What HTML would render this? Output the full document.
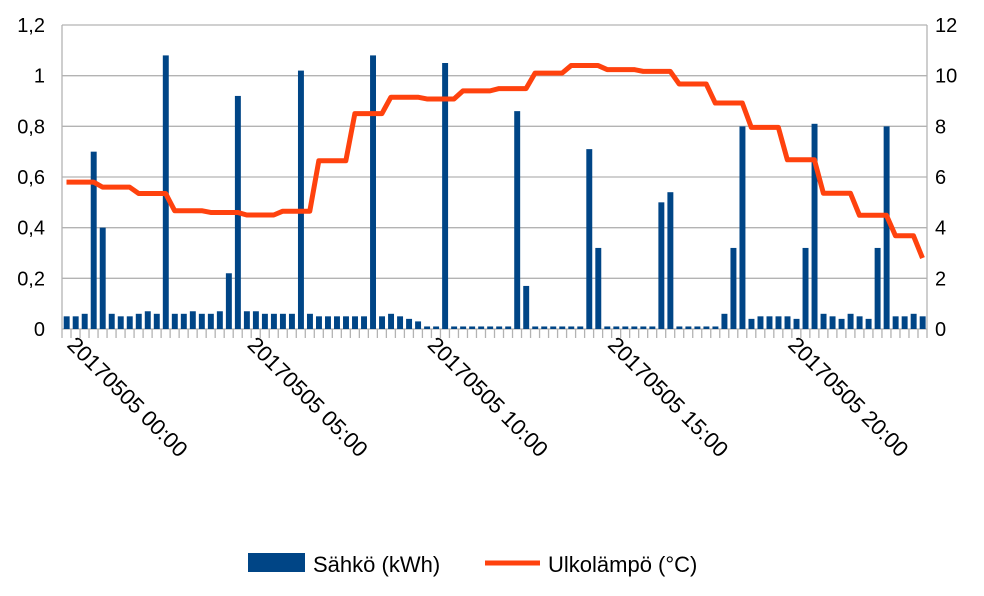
<!DOCTYPE html>
<html><head><meta charset="utf-8"><style>
html,body{margin:0;padding:0;background:#fff;}
svg text{font-family:"Liberation Sans",sans-serif;fill:#000;}
</style></head><body>
<svg id="chart" width="984" height="591" viewBox="0 0 984 591" xmlns="http://www.w3.org/2000/svg">
<g id="grid"></g>
<g id="bars"></g>
<g id="axes"></g>
<g id="line"></g>
<g id="legend">
  <g>
    <rect x="248" y="553" width="57" height="19" fill="#004586"/>
    <text x="313" y="572" font-size="22">Sähkö (kWh)</text>
  </g>
  <g>
    <line x1="485" y1="563" x2="540" y2="563" stroke="#ff420e" stroke-width="5"/>
    <text x="548" y="572" font-size="22">Ulkolämpö (°C)</text>
  </g>
</g>
</svg>
<script>
const electricity = [0.05,0.05,0.06,0.70,0.40,0.06,0.05,0.05,0.06,0.07,0.06,1.08,0.06,0.06,0.07,0.06,
0.06,0.07,0.22,0.92,0.07,0.07,0.06,0.06,0.06,0.06,1.02,0.06,0.05,0.05,0.05,0.05,
0.05,0.05,1.08,0.05,0.06,0.05,0.04,0.03,0.01,0.01,1.05,0.01,0.01,0.01,0.01,0.01,
0.01,0.01,0.86,0.17,0.01,0.01,0.01,0.01,0.01,0.01,0.71,0.32,0.01,0.01,0.01,0.01,
0.01,0.01,0.50,0.54,0.01,0.01,0.01,0.01,0.01,0.06,0.32,0.80,0.04,0.05,0.05,0.05,
0.05,0.04,0.32,0.81,0.06,0.05,0.04,0.06,0.05,0.04,0.32,0.80,0.05,0.05,0.06,0.05];
const temperature = [5.8,5.8,5.8,5.8,5.6,5.6,5.6,5.6,5.35,5.35,5.35,5.35,4.67,4.67,4.67,4.67,
4.6,4.6,4.6,4.6,4.5,4.5,4.5,4.5,4.65,4.65,4.65,4.65,6.64,6.64,6.64,6.64,
8.5,8.5,8.5,8.5,9.15,9.15,9.15,9.15,9.08,9.08,9.08,9.08,9.4,9.4,9.4,9.4,
9.49,9.49,9.49,9.49,10.1,10.1,10.1,10.1,10.4,10.4,10.4,10.4,10.24,10.24,10.24,10.24,
10.17,10.17,10.17,10.17,9.67,9.67,9.67,9.67,8.92,8.92,8.92,8.92,7.96,7.96,7.96,7.96,
6.68,6.68,6.68,6.68,5.36,5.36,5.36,5.36,4.49,4.49,4.49,4.49,3.68,3.68,3.68,2.8];
const leftTicks = ["0","0,2","0,4","0,6","0,8","1","1,2"];
const rightTicks = ["0","2","4","6","8","10","12"];
const xLabels = ["20170505 00:00","20170505 05:00","20170505 10:00","20170505 15:00","20170505 20:00"];
const xLabelSlots = [0,20,40,60,80];

const NS="http://www.w3.org/2000/svg";
const X0=62,X1=927,Y0=329,Y1=25;
const slot=(X1-X0)/electricity.length;
const yL=v=>Y0-(v/1.2)*(Y0-Y1);
const yR=v=>Y0-(v/12)*(Y0-Y1);
const xS=i=>X0+slot*i;
function mk(tag,attrs,parent){const e=document.createElementNS(NS,tag);for(const k in attrs)e.setAttribute(k,attrs[k]);parent.appendChild(e);return e;}
const grid=document.getElementById('grid'),bars=document.getElementById('bars'),axes=document.getElementById('axes'),line=document.getElementById('line');
leftTicks.forEach((t,i)=>{
  const v=i*0.2,y=yL(v);
  const g=mk('line',{x1:X0,x2:X1,y1:y,y2:y,stroke:'#b3b3b3','stroke-width':1.3},grid);
  
  
  const tx=mk('text',{x:45,y:y+7,'font-size':20,'text-anchor':'end'},axes);tx.textContent=t;
  
  
});
rightTicks.forEach((t,i)=>{
  const y=yR(+t);
  const tx=mk('text',{x:935,y:y+7,'font-size':20},axes);tx.textContent=t;
  
  
});
electricity.forEach((v,i)=>{
  const b=mk('rect',{x:xS(i)+1.7,y:yL(v),width:slot*0.66,height:Y0-yL(v),fill:'#004586'},bars);
  
  
});
mk('line',{x1:X0,x2:X0,y1:Y1,y2:Y0,stroke:'#b3b3b3','stroke-width':1.3},axes);
mk('line',{x1:X1,x2:X1,y1:Y1,y2:Y0,stroke:'#b3b3b3','stroke-width':1.3},axes);
for(let i=0;i<=electricity.length;i++){mk('line',{x1:xS(i),x2:xS(i),y1:Y0,y2:Y0+9,stroke:'#b3b3b3','stroke-width':1.3},axes);}
xLabels.forEach((t,i)=>{
  const x=xS(xLabelSlots[i])+4,y=Y0+17;
  const tx=mk('text',{x:x,y:y,'font-size':22,transform:`rotate(45 ${x} ${y})`},axes);tx.textContent=t;
  
  
});
const pts=temperature.map((v,i)=>`${xS(i)+slot/2},${yR(v)}`).join(' ');
const pl=mk('polyline',{points:pts,fill:'none',stroke:'#ff420e','stroke-width':5,'stroke-linejoin':'round'},line);


</script>
</body></html>
